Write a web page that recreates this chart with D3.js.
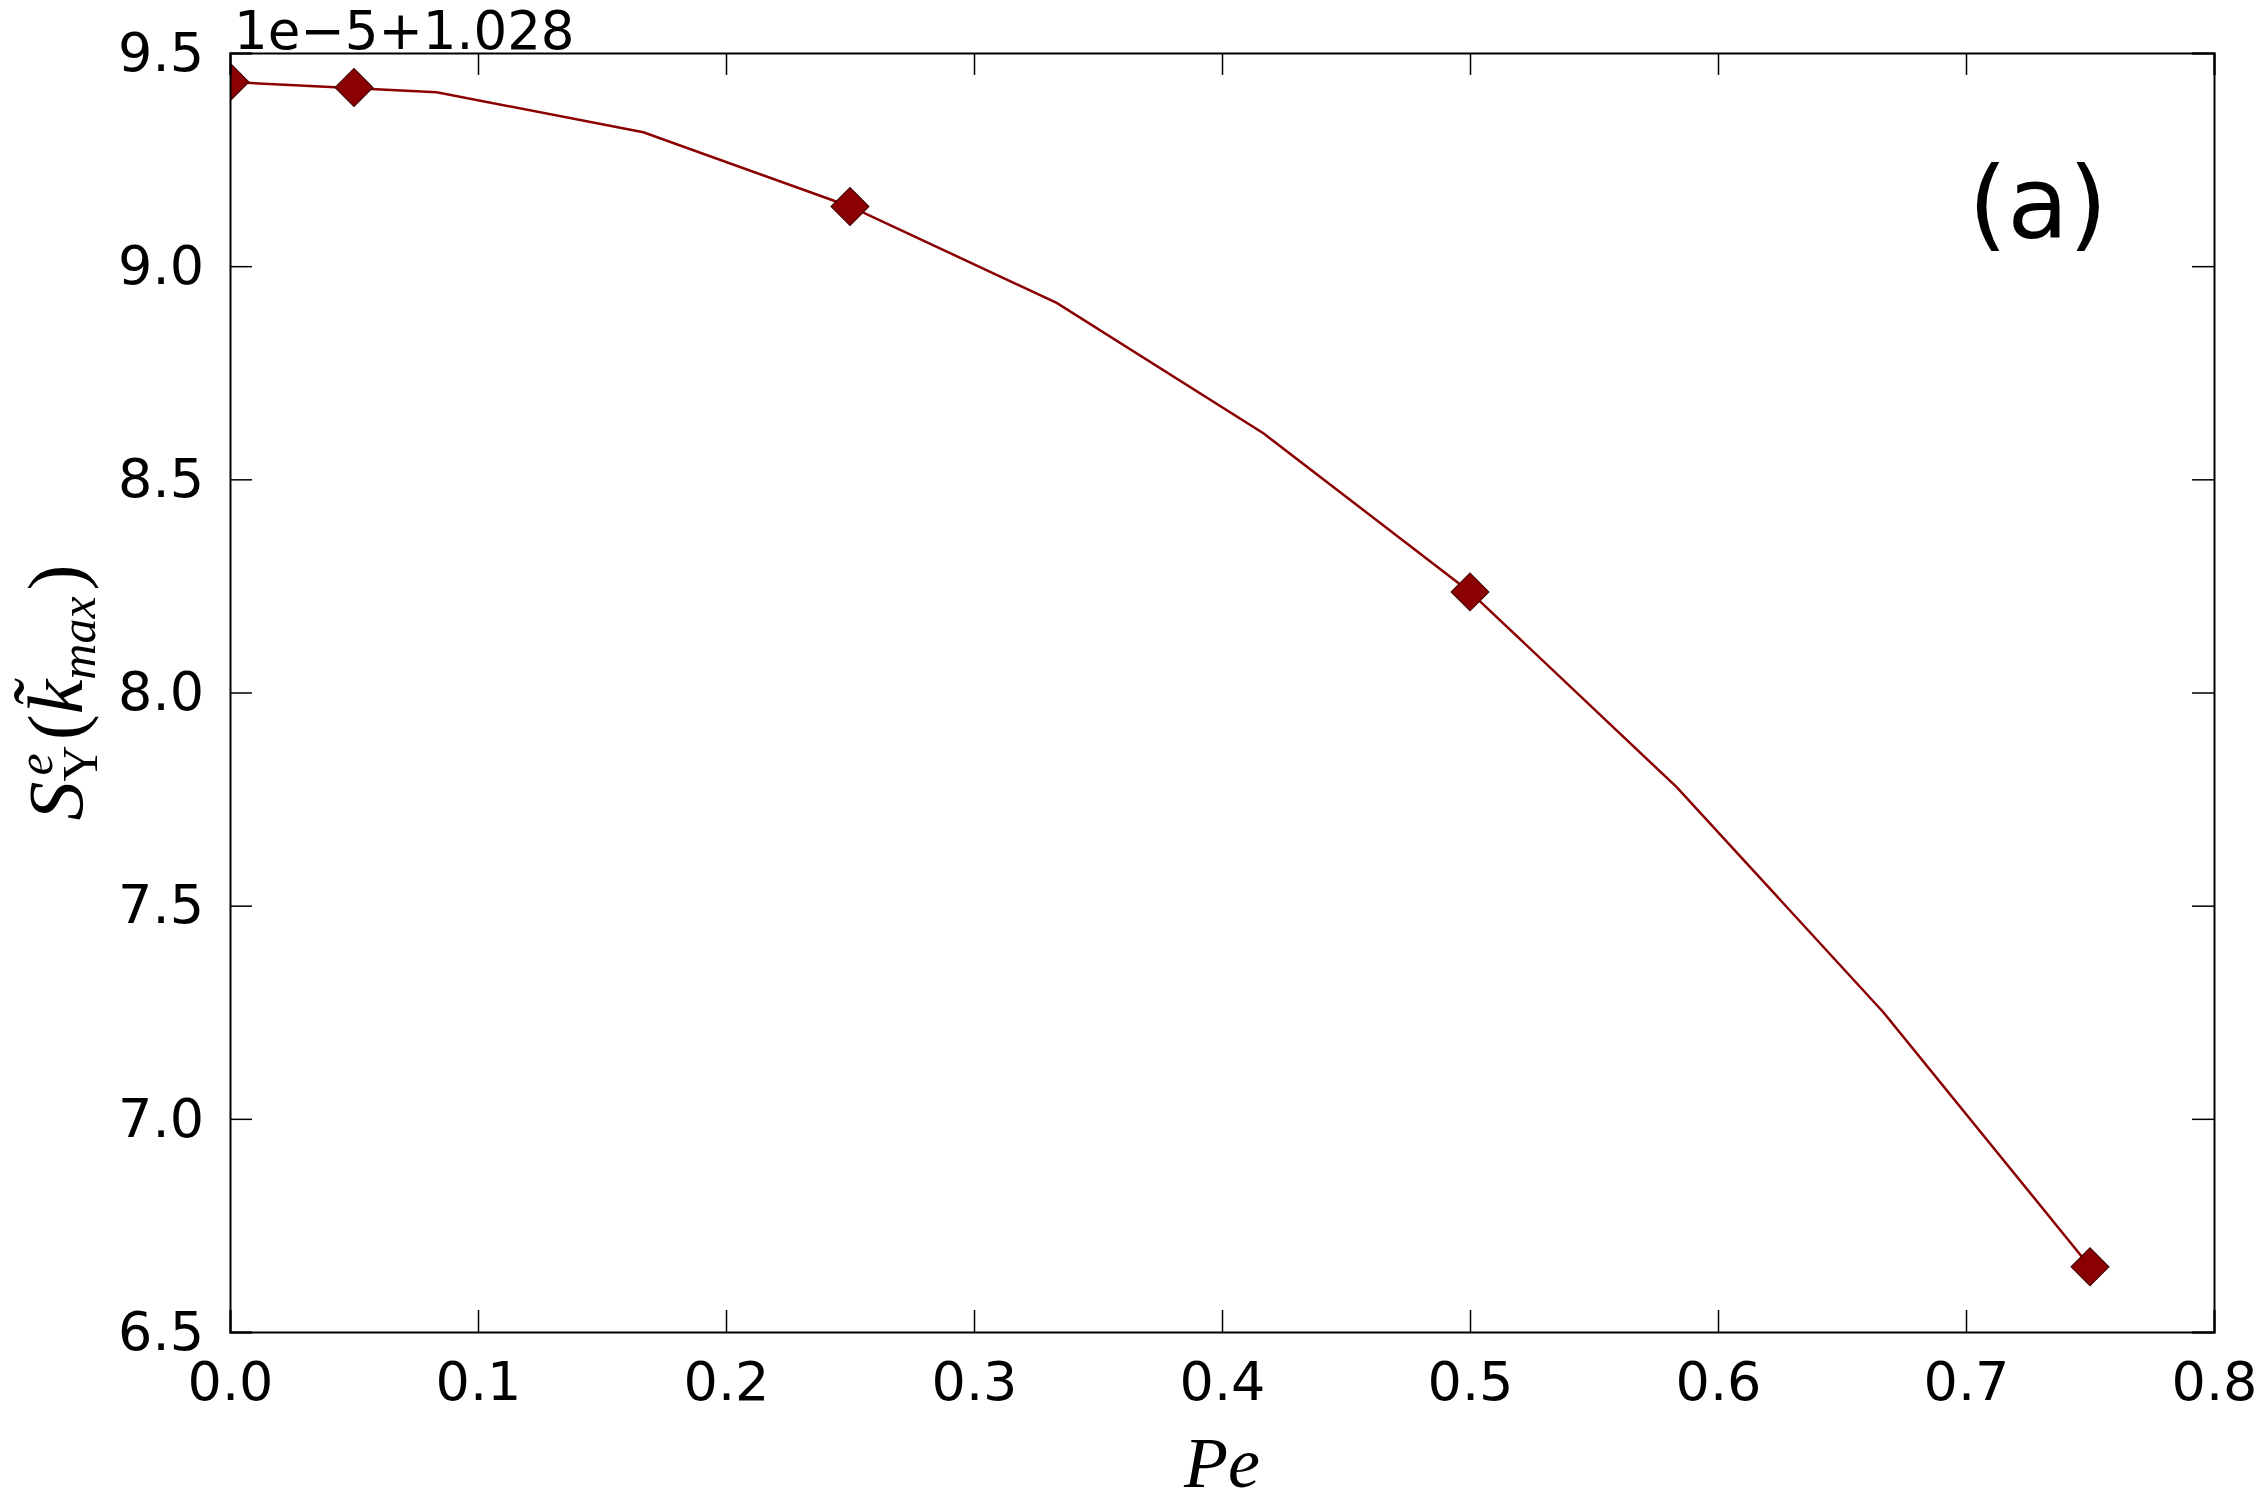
<!DOCTYPE html>
<html>
<head>
<meta charset="utf-8">
<script src="https://cdn.jsdelivr.net/npm/d3@7"></script>
<style>
  body { margin: 0; background: #fff; }
</style>
</head>
<body>
<div id="chart"></div>
<script>
// curve sampled at Pe = k/12
var linePe = [0, 1/12, 2/12, 3/12, 4/12, 5/12, 6/12, 7/12, 8/12, 9/12];
var lineS  = [9.432, 9.408, 9.314, 9.140, 8.914, 8.608, 8.236, 7.778, 7.250, 6.653];
// diamond markers
var markPe = [0, 0.05, 0.25, 0.5, 0.75];
var markS  = [9.432, 9.419, 9.140, 8.236, 6.653];
var xTicks = [0, 0.1, 0.2, 0.3, 0.4, 0.5, 0.6, 0.7, 0.8];
var yTicks = [6.5, 7.0, 7.5, 8.0, 8.5, 9.0, 9.5];

var W = 2266, H = 1509;
var margin = {top: 53, right: 52, bottom: 177, left: 230},
    width = W - margin.left - margin.right,
    height = H - margin.top - margin.bottom;
var sans = "DejaVu Sans, sans-serif",
    serif = "Liberation Serif, DejaVu Serif, serif";

var svg = d3.select("#chart")
  .append("svg")
    .attr("width", W)
    .attr("height", H)
  .append("g")
    .attr("transform", "translate(" + margin.left + "," + margin.top + ")");

var x = d3.scaleLinear().domain([0, 0.8]).range([0, width]);
var y = d3.scaleLinear().domain([6.5, 9.5]).range([height, 0]);

svg.append("clipPath").attr("id", "clip")
  .append("rect").attr("width", width).attr("height", height);

// data line
var line = d3.line()
  .x(function(d, i) { return x(linePe[i]); })
  .y(function(d) { return y(d); });

svg.append("path")
  .datum(lineS)
  .attr("clip-path", "url(#clip)")
  .attr("fill", "none")
  .attr("stroke", "#8b0000")
  .attr("stroke-width", 2.5)
  .attr("d", line);

// markers
svg.append("g")
  .attr("clip-path", "url(#clip)")
  .selectAll("path")
  .data(markS)
  .enter()
  .append("path")
    .attr("d", d3.symbol(d3.symbolSquare, 720))
    .attr("transform", function(d, i) { return "translate(" + x(markPe[i]) + "," + y(d) + ") rotate(45)"; })
    .attr("fill", "#8b0000")
    .attr("stroke", "#3a0000")
    .attr("stroke-width", 1);

// axes, ticks pointing inward
var fmt1 = d3.format(".1f");
var axB = svg.append("g")
  .attr("transform", "translate(0," + height + ")")
  .call(d3.axisBottom(x).tickValues(xTicks).tickFormat(fmt1).tickSize(-22).tickPadding(30));
var axL = svg.append("g")
  .call(d3.axisLeft(y).tickValues(yTicks).tickFormat(fmt1).tickSize(-22).tickPadding(26));
var axT = svg.append("g")
  .call(d3.axisTop(x).tickValues(xTicks).tickFormat("").tickSize(-22));
var axR = svg.append("g")
  .attr("transform", "translate(" + width + ",0)")
  .call(d3.axisRight(y).tickValues(yTicks).tickFormat("").tickSize(-22));

[axB, axL, axT, axR].forEach(function(a) {
  a.selectAll("path.domain").attr("stroke", "#000").attr("stroke-width", 2);
  a.selectAll(".tick line").attr("stroke", "#000").attr("stroke-width", 1.5);
  a.selectAll("text").attr("font-size", 54).attr("fill", "#000")
    .style("font-family", sans);
});

// offset text
svg.append("text")
  .attr("x", 4)
  .attr("y", -4)
  .attr("font-size", 53)
  .style("font-family", sans)
  .text("1e\u22125+1.028");

// panel label
svg.append("text")
  .attr("x", x(0.729))
  .attr("y", 185)
  .attr("text-anchor", "middle")
  .attr("font-size", 100)
  .style("font-family", sans)
  .text("(a)");

// x label
svg.append("text")
  .attr("x", width / 2)
  .attr("y", height + 155)
  .attr("text-anchor", "middle")
  .style("font-family", serif)
  .attr("font-style", "italic")
  .attr("font-size", 72)
  .text("Pe");

// y label
var yl = svg.append("text")
  .attr("transform", "translate(" + (62 - margin.left + 20) + "," + (height / 2) + ") rotate(-90)")
  .attr("text-anchor", "middle")
  .style("font-family", serif)
  .attr("font-size", 78);
yl.append("tspan").attr("font-style", "italic").text("S");
yl.append("tspan").attr("font-size", 50).attr("dy", 15).text("Y");
yl.append("tspan").attr("font-size", 50).attr("font-style", "italic").attr("dx", -30).attr("dy", -45).text("e");
yl.append("tspan").attr("dx", 13).attr("dy", 30).text("(");
yl.append("tspan").attr("font-style", "italic").text("k\u0303");
yl.append("tspan").attr("font-size", 50).attr("font-style", "italic").attr("dy", 13).text("max");
yl.append("tspan").attr("dx", 6).attr("dy", -13).text(")");
</script>
</body>
</html>
